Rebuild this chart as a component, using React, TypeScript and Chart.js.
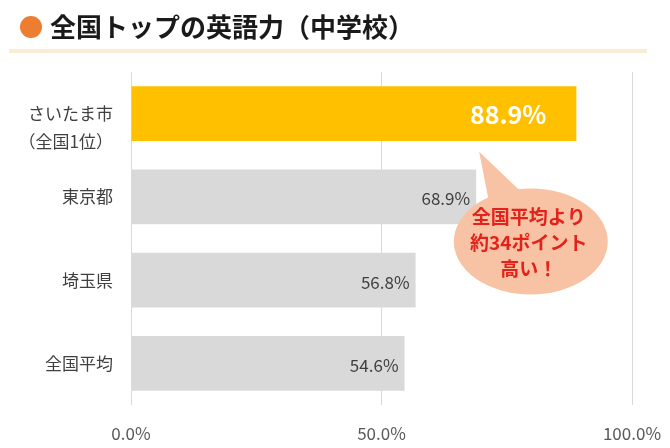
import React, { useEffect, useRef } from 'react';
import { Chart, registerables } from 'chart.js';
import type { Plugin } from 'chart.js';

Chart.register(...registerables);

const FONT = "'Noto Sans CJK JP', 'Noto Sans', sans-serif";

const title = '全国トップの英語力（中学校）';
const categories = ['さいたま市', '東京都', '埼玉県', '全国平均'];
const subLabels = ['（全国1位）', '', '', ''];
const scores = [88.9, 68.9, 56.8, 54.6];
const barColors = ['#FFC000', '#D9D9D9', '#D9D9D9', '#D9D9D9'];
const xTicks = [0, 50, 100];
const xTickLabels = ['0.0%', '50.0%', '100.0%'];
const calloutLines = ['全国平均より', '約34ポイント', '高い！'];

// title, dot and underline above the plot
const headerPlugin: Plugin<'bar'> = {
  id: 'header',
  beforeDraw(chart) {
    const ctx = chart.ctx;
    ctx.save();
    ctx.fillStyle = '#ED7D31';
    ctx.beginPath();
    ctx.arc(31, 27, 11, 0, Math.PI * 2);
    ctx.fill();

    ctx.fillStyle = '#1a1a1a';
    ctx.font = `bold 26px ${FONT}`;
    ctx.textAlign = 'left';
    ctx.textBaseline = 'middle';
    ctx.fillText(title, 50, 27);

    ctx.fillStyle = '#FBEDD2';
    ctx.fillRect(9, 49, 638, 4);
    ctx.restore();
  },
};

// value labels inside the bar ends
const valueLabels: Plugin<'bar'> = {
  id: 'valueLabels',
  afterDatasetsDraw(chart) {
    const ctx = chart.ctx;
    const meta = chart.getDatasetMeta(0);
    ctx.save();
    ctx.textAlign = 'right';
    ctx.textBaseline = 'middle';
    meta.data.forEach((bar, i) => {
      const text = scores[i].toFixed(1) + '%';
      if (i === 0) {
        ctx.font = `bold 25px ${FONT}`;
        ctx.fillStyle = '#ffffff';
        ctx.fillText(text, bar.x - 30, bar.y + 1);
      } else {
        ctx.font = `17px ${FONT}`;
        ctx.fillStyle = '#404040';
        ctx.fillText(text, bar.x - 6, bar.y + 2);
      }
    });
    ctx.restore();
  },
};

// speech bubble pointing at the top bar
const calloutPlugin: Plugin<'bar'> = {
  id: 'callout',
  afterDraw(chart) {
    const ctx = chart.ctx;
    const x = chart.scales.x;
    const y = chart.scales.y;
    const cx = x.getPixelForValue(79.8);
    const cy = (y.getPixelForValue(1) + y.getPixelForValue(2)) / 2 + 3;
    const rx = 77;
    const ry = 53;
    const tipX = x.getPixelForValue(69.5);
    const tipY = y.getPixelForValue(0) + 38;

    ctx.save();
    ctx.fillStyle = '#F7C3A4';
    ctx.beginPath();
    ctx.moveTo(tipX, tipY);
    ctx.lineTo(cx - 40, cy - 30);
    ctx.lineTo(cx - 10, cy - 50);
    ctx.closePath();
    ctx.fill();
    ctx.beginPath();
    ctx.ellipse(cx, cy, rx, ry, 0, 0, Math.PI * 2);
    ctx.fill();

    ctx.fillStyle = '#E3231B';
    ctx.font = `bold 19px ${FONT}`;
    ctx.textAlign = 'center';
    ctx.textBaseline = 'middle';
    calloutLines.forEach((line, i) => {
      ctx.fillText(line, cx - 2, cy - 25 + i * 26);
    });
    ctx.restore();
  },
};

const App: React.FC = () => {
  const canvasRef = useRef<HTMLCanvasElement>(null);

  useEffect(() => {
    document.body.style.margin = '0';
    if (!canvasRef.current) return;

    const chart = new Chart(canvasRef.current, {
      type: 'bar',
      data: {
        labels: categories,
        datasets: [
          {
            data: scores,
            backgroundColor: barColors,
            borderWidth: 0,
            barPercentage: 0.66,
            categoryPercentage: 1,
          },
        ],
      },
      options: {
        indexAxis: 'y',
        animation: false,
        responsive: true,
        maintainAspectRatio: false,
        layout: { padding: { top: 72, right: 38, left: 0, bottom: 0 } },
        plugins: {
          legend: { display: false },
          tooltip: { enabled: false },
          title: { display: false },
        },
        scales: {
          x: {
            min: 0,
            max: 100,
            afterBuildTicks: (scale) => {
              scale.ticks = xTicks.map((v) => ({ value: v }));
            },
            afterFit: (scale) => {
              scale.height = 43;
              scale.paddingLeft = 0;
              scale.paddingRight = 0;
            },
            grid: { color: '#D9D9D9', lineWidth: 1, drawTicks: false },
            border: { display: false },
            ticks: {
              padding: 18,
              color: '#595959',
              font: { family: FONT, size: 17 },
              callback: (value) => xTickLabels[xTicks.indexOf(Number(value))],
            },
          },
          y: {
            afterFit: (scale) => {
              scale.width = 131;
              scale.paddingTop = 0;
              scale.paddingBottom = 0;
            },
            grid: { display: false, drawTicks: false },
            border: { display: false },
            ticks: {
              autoSkip: false,
              padding: 18,
              color: '#404040',
              font: { family: FONT, size: 17, lineHeight: 1.65 },
              callback: (_v, i) =>
                subLabels[i] ? ['', categories[i], subLabels[i]] : categories[i],
            },
          },
        },
      },
      plugins: [headerPlugin, valueLabels, calloutPlugin],
    });

    return () => chart.destroy();
  }, []);

  return (
    <div style={{ width: 670, height: 448, position: 'relative', background: '#fff' }}>
      <canvas ref={canvasRef}></canvas>
    </div>
  );
};

export default App;
